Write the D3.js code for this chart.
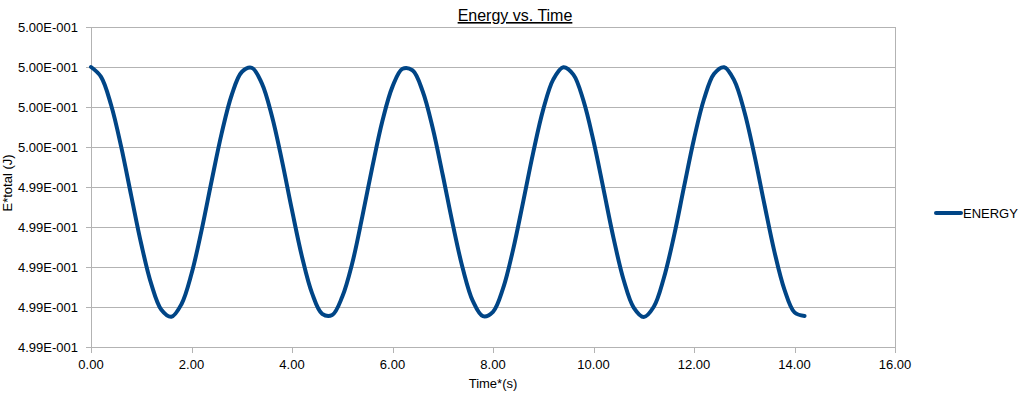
<!DOCTYPE html>
<html lang="en">
<head>
<meta charset="UTF-8">
<title>Energy vs. Time</title>
<script src="https://d3js.org/d3.v7.min.js"></script>
<style>
    body { margin: 0; background: #fff; }
    text { font-family: "Liberation Sans", Arial, sans-serif; fill: #000; }
</style>
</head>
<body>
<div id="chart"></div>
<script>
// Data
var times = [0.0, 0.2, 0.4, 0.6, 0.8, 1.0, 1.2, 1.4, 1.6, 1.8,
             2.0, 2.2, 2.4, 2.6, 2.8, 3.0, 3.2, 3.4, 3.6, 3.8,
             4.0, 4.2, 4.4, 4.6, 4.8, 5.0, 5.2, 5.4, 5.6, 5.8,
             6.0, 6.2, 6.4, 6.6, 6.8, 7.0, 7.2, 7.4, 7.6, 7.8,
             8.0, 8.2, 8.4, 8.6, 8.8, 9.0, 9.2, 9.4, 9.6, 9.8,
             10.0, 10.2, 10.4, 10.6, 10.8, 11.0, 11.2, 11.4, 11.6, 11.8,
             12.0, 12.2, 12.4, 12.6, 12.8, 13.0, 13.2, 13.4, 13.6, 13.8,
             14.0, 14.2];
var energy = [0.4995500, 0.4995451, 0.4995310, 0.4995102, 0.4994857, 0.4994615, 0.4994414, 0.4994286, 0.4994251, 0.4994314,
              0.4994466, 0.4994683, 0.4994930, 0.4995168, 0.4995360, 0.4995475, 0.4995496, 0.4995418, 0.4995255, 0.4995032,
              0.4994784, 0.4994550, 0.4994368, 0.4994266, 0.4994260, 0.4994351, 0.4994520, 0.4994753, 0.4995002, 0.4995231,
              0.4995402, 0.4995491, 0.4995483, 0.4995379, 0.4995195, 0.4994960, 0.4994713, 0.4994491, 0.4994329, 0.4994254,
              0.4994276, 0.4994393, 0.4994587, 0.4994826, 0.4995072, 0.4995288, 0.4995438, 0.4995499, 0.4995462, 0.4995332,
              0.4995130, 0.4994888, 0.4994643, 0.4994435, 0.4994297, 0.4994250, 0.4994301, 0.4994445, 0.4994653, 0.4994899,
              0.4995140, 0.4995340, 0.4995466, 0.4995499, 0.4995433, 0.4995279, 0.4995062, 0.4994815, 0.4994577, 0.4994387,
              0.4994273, 0.4994255];
var xTicks = [0, 2, 4, 6, 8, 10, 12, 14, 16];
var yTicks = [0.49941, 0.49943, 0.49945, 0.49947, 0.49949, 0.49951, 0.49953, 0.49955, 0.49957];
var seriesName = "ENERGY";

var width = 1031, height = 393;
var plotLeft = 91, plotRight = 895, plotTop = 27, plotBottom = 347;
var lineColor = "#004586", gridColor = "#b3b3b3";

var svg = d3.select("#chart").append("svg")
    .attr("width", width)
    .attr("height", height);

var x = d3.scaleLinear().domain([0, 16]).range([plotLeft, plotRight]);
var y = d3.scaleLinear().domain([0.49941, 0.49957]).range([plotBottom, plotTop]);

// Excel style scientific labels, e.g. 5.00E-001
function sci(v) {
    var parts = v.toExponential(2).split("e");
    var exp = parseInt(parts[1], 10);
    var sign = exp < 0 ? "-" : "+";
    return parts[0] + "E" + sign + String(Math.abs(exp)).padStart(3, "0");
}

// horizontal grid
svg.append("g").selectAll("line")
    .data(yTicks)
    .enter().append("line")
    .attr("x1", plotLeft - 5).attr("x2", plotRight)
    .attr("y1", d => Math.round(y(d)) + 0.5)
    .attr("y2", d => Math.round(y(d)) + 0.5)
    .attr("stroke", gridColor)
    .attr("stroke-width", 1);

// axis lines
svg.append("line")
    .attr("x1", plotLeft + 0.5).attr("x2", plotLeft + 0.5)
    .attr("y1", plotTop).attr("y2", plotBottom + 1)
    .attr("stroke", gridColor);
svg.append("line")
    .attr("x1", plotRight + 0.5).attr("x2", plotRight + 0.5)
    .attr("y1", plotTop).attr("y2", plotBottom + 1)
    .attr("stroke", gridColor);

// x ticks
svg.append("g").selectAll("line")
    .data(xTicks)
    .enter().append("line")
    .attr("x1", d => Math.round(x(d)) + 0.5)
    .attr("x2", d => Math.round(x(d)) + 0.5)
    .attr("y1", plotBottom).attr("y2", plotBottom + 6)
    .attr("stroke", gridColor);

svg.append("g").selectAll("text")
    .data(xTicks)
    .enter().append("text")
    .attr("x", d => x(d))
    .attr("y", plotBottom + 22)
    .attr("text-anchor", "middle")
    .style("font-size", "13px")
    .text(d => d.toFixed(2));

svg.append("g").selectAll("text")
    .data(yTicks)
    .enter().append("text")
    .attr("x", plotLeft - 13)
    .attr("y", d => y(d) + 4.5)
    .attr("text-anchor", "end")
    .style("font-size", "13px")
    .text(d => sci(d));

// series line
var line = d3.line()
    .x((d, i) => x(times[i]))
    .y(d => y(d))
    .curve(d3.curveCatmullRom.alpha(0.5));

svg.append("path")
    .datum(energy)
    .attr("d", line)
    .attr("fill", "none")
    .attr("stroke", lineColor)
    .attr("stroke-width", 4)
    .attr("stroke-linejoin", "round")
    .attr("stroke-linecap", "round");

// titles
svg.append("text")
    .attr("x", 515)
    .attr("y", 21)
    .attr("text-anchor", "middle")
    .style("font-size", "16px")
    .style("text-decoration", "underline")
    .text("Energy vs. Time");

svg.append("text")
    .attr("x", (plotLeft + plotRight) / 2)
    .attr("y", 388)
    .attr("text-anchor", "middle")
    .style("font-size", "13px")
    .text("Time*(s)");

svg.append("text")
    .attr("transform", "translate(12," + ((plotTop + plotBottom) / 2 - 4) + ") rotate(-90)")
    .attr("text-anchor", "middle")
    .style("font-size", "13px")
    .text("E*total (J)");

// legend
svg.append("line")
    .attr("x1", 936).attr("x2", 961)
    .attr("y1", 213).attr("y2", 213)
    .attr("stroke", lineColor)
    .attr("stroke-width", 4)
    .attr("stroke-linecap", "round");
svg.append("text")
    .attr("x", 963)
    .attr("y", 218)
    .style("font-size", "13px")
    .text(seriesName);
</script>
</body>
</html>
